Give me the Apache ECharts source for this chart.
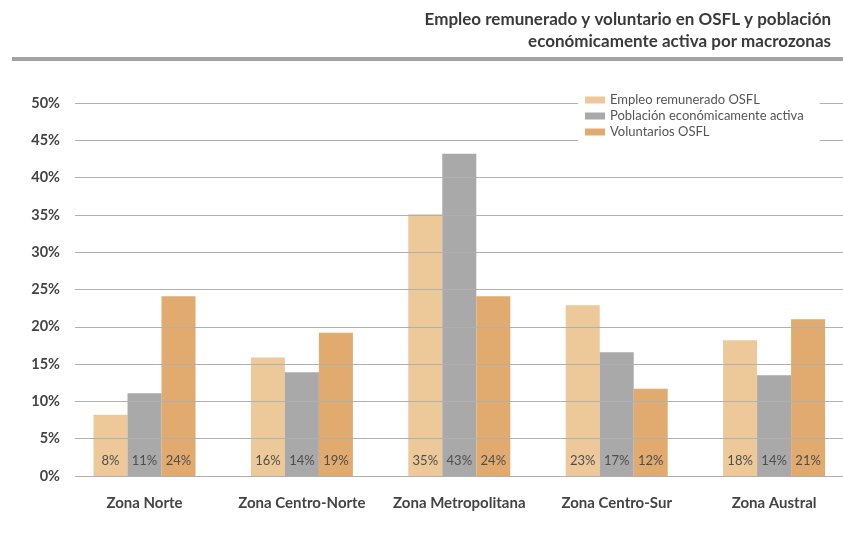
<!DOCTYPE html>
<html lang="es">
<head>
    <meta charset="UTF-8">
    <title>Empleo remunerado y voluntario en OSFL</title>
    <script type="text/javascript" src="https://cdn.jsdelivr.net/npm/echarts@6/dist/echarts.min.js"></script>
</head>
<body style="height: 535px; margin: 0; width: 843px">
<div id="container" style="height: 100%; width: 100%"></div>
<script type="text/javascript">
    var zonas = ['Zona Norte', 'Zona Centro-Norte', 'Zona Metropolitana', 'Zona Centro-Sur', 'Zona Austral'];
    var empleoRemunerado = [8.2, 15.9, 35.1, 22.9, 18.2];
    var poblacionActiva = [11.1, 13.9, 43.2, 16.6, 13.5];
    var voluntarios = [24.1, 19.2, 24.1, 11.7, 21.0];
    var nombres = ['Empleo remunerado OSFL', 'Población económicamente activa', 'Voluntarios OSFL'];
    var colores = ['#edc898', '#a9a9a9', '#e1aa6e'];

    var fuente = 'Lato';
    var dom = document.getElementById("container");
    var myChart = echarts.init(dom);

    function serie(i, datos) {
        return {
            name: nombres[i],
            type: 'bar',
            xAxisIndex: 0,
            yAxisIndex: 0,
            data: datos,
            barWidth: 34,
            barGap: '0%',
            itemStyle: {color: colores[i]},
            label: {
                show: true,
                position: 'insideBottom',
                distance: 9,
                color: '#4e4e4e',
                fontFamily: fuente,
                fontSize: 13,
                formatter: function (p) { return Math.round(p.value) + '%'; }
            }
        };
    }

    var option = {
        animation: false,
        color: colores,
        title: {
            text: 'Empleo remunerado y voluntario en OSFL y población\neconómicamente activa por macrozonas',
            left: 831,
            top: 9,
            padding: 0,
            textAlign: 'right',
            textStyle: {
                fontFamily: fuente,
                fontWeight: 'bold',
                fontSize: 17,
                lineHeight: 22,
                color: '#3a3a3a'
            }
        },
        graphic: [{
            type: 'rect',
            shape: {x: 12, y: 57, width: 831, height: 4},
            style: {fill: '#a3a3a3'}
        }],
        legend: {
            orient: 'vertical',
            left: 578,
            top: 88,
            padding: [5, 16, 5, 7],
            backgroundColor: '#fff',
            itemWidth: 20,
            itemHeight: 7,
            itemGap: 2,
            icon: 'rect',
            data: nombres,
            textStyle: {fontFamily: fuente, fontSize: 13, color: '#555', lineHeight: 14}
        },
        grid: [
            {left: 65.8, right: -9.8, top: 103, bottom: 59, outerBoundsMode: 'none'},
            {left: 75, right: 0, top: 103, bottom: 59, outerBoundsMode: 'none'}
        ],
        xAxis: [
            {
                type: 'category',
                gridIndex: 0,
                data: zonas,
                axisLine: {show: false},
                axisTick: {show: false},
                axisLabel: {
                    interval: 0,
                    hideOverlap: false,
                    margin: 20,
                    fontFamily: fuente,
                    fontWeight: 'bold',
                    fontSize: 15,
                    color: '#444'
                }
            },
            {type: 'value', gridIndex: 1, show: false}
        ],
        yAxis: [
            {type: 'value', gridIndex: 0, min: 0, max: 50, interval: 5, show: false},
            {
                type: 'value',
                gridIndex: 1,
                min: 0,
                max: 50,
                interval: 5,
                z: 3,
                axisLine: {show: false},
                axisTick: {show: false},
                splitLine: {lineStyle: {color: '#b0b0b0', width: 1}},
                axisLabel: {
                    margin: 15,
                    formatter: '{value}%',
                    fontFamily: fuente,
                    fontWeight: 'bold',
                    fontSize: 14.5,
                    color: '#444'
                }
            }
        ],
        series: [
            serie(0, empleoRemunerado),
            serie(1, poblacionActiva),
            serie(2, voluntarios)
        ]
    };

    if (option && typeof option === "object") {
        myChart.setOption(option, true);
    }
</script>
</body>
</html>
